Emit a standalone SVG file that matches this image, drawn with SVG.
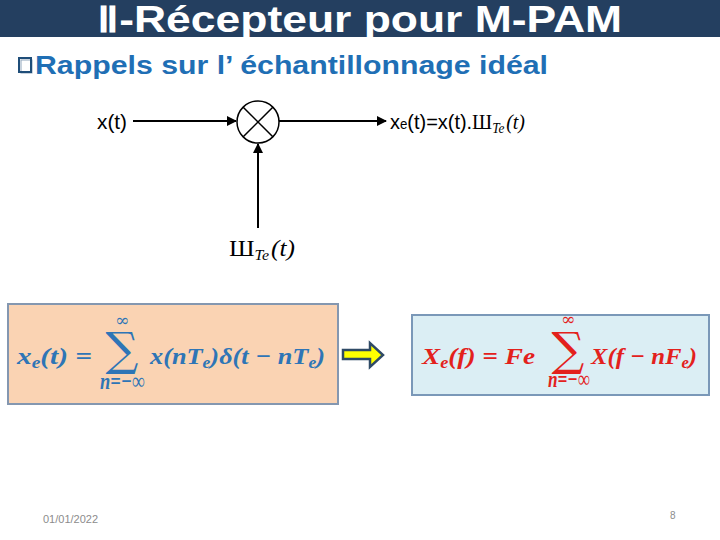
<svg xmlns="http://www.w3.org/2000/svg" width="720" height="540" viewBox="0 0 720 540">
<defs>
<style>
.title{font-family:"Liberation Sans",Arial,sans-serif;font-weight:bold;fill:#ffffff}
.sub{font-family:"Liberation Sans",Arial,sans-serif;font-weight:bold;fill:#1F6FB5}
.lbl{font-family:"Liberation Sans",Arial,sans-serif;fill:#000000;font-size:21px}
.mth{font-family:"Liberation Serif","DejaVu Serif",serif;font-style:italic}
.fb{font-family:"Liberation Serif","DejaVu Serif",serif;font-weight:bold;font-style:italic;font-size:24px}
.sig{font-family:"DejaVu Serif","Liberation Serif",serif;font-weight:normal;font-style:normal}
.blue{fill:#2E75B6}
.red{fill:#E3211C}
.conn{stroke:#000;stroke-width:2;fill:none}
.foot{font-family:"Liberation Sans",Arial,sans-serif;fill:#8C8C8C}
</style>
<marker id="ah" viewBox="0 0 10 10" refX="9" refY="5" markerWidth="5" markerHeight="5" orient="auto" markerUnits="strokeWidth">
<path d="M0,0 L10,5 L0,10 z" fill="#000"/>
</marker>
</defs>
<rect width="720" height="540" fill="#ffffff"/>
<g id="title-bar">
<rect x="0" y="0" width="720" height="37" fill="#243F60"/>
<text class="title" x="97" y="32" font-size="36" textLength="525" lengthAdjust="spacingAndGlyphs">Ⅱ-Récepteur pour M-PAM</text>
</g>
<g id="subtitle">
<rect x="19" y="58" width="12" height="14" fill="none" stroke="#1F4E79" stroke-width="2"/>
<rect x="21" y="60" width="11" height="13" fill="none" stroke="#1F4E79" stroke-width="1" opacity="0.5"/>
<text class="sub" x="35" y="74" font-size="25" textLength="513" lengthAdjust="spacingAndGlyphs">Rappels sur l’ échantillonnage idéal</text>
</g>
<g id="connectors">
<line class="conn" x1="133" y1="121" x2="236" y2="121" marker-end="url(#ah)"/>
<line class="conn" x1="279" y1="121" x2="386" y2="121" marker-end="url(#ah)"/>
<line class="conn" x1="258" y1="228" x2="258" y2="144" marker-end="url(#ah)"/>
</g>
<g id="multiplier">
<circle cx="258" cy="122" r="21" fill="#fff" stroke="#000" stroke-width="1.5"/>
<line x1="243.2" y1="107.2" x2="272.8" y2="136.8" stroke="#000" stroke-width="1.5"/>
<line x1="272.8" y1="107.2" x2="243.2" y2="136.8" stroke="#000" stroke-width="1.5"/>
</g>
<g id="label-x">
<text class="lbl" x="97" y="129" textLength="30" lengthAdjust="spacingAndGlyphs">x(t)</text>
</g>
<g id="label-xe">
<text x="390" y="129" font-size="21" font-family="Liberation Sans, Arial, sans-serif" textLength="135" lengthAdjust="spacingAndGlyphs"><tspan>x</tspan><tspan font-size="14">e</tspan><tspan>(t)=x(t).</tspan><tspan font-family="Liberation Serif, serif">Ш</tspan><tspan class="mth" font-size="14" dy="4">Te</tspan><tspan class="mth" dy="-4" dx="2">(t)</tspan></text>
</g>
<g id="label-comb">
<text x="229" y="256" font-size="24" font-family="Liberation Serif, serif" textLength="66" lengthAdjust="spacingAndGlyphs"><tspan>Ш</tspan><tspan class="mth" font-size="15" dy="4">Te</tspan><tspan class="mth" dy="-4" dx="2">(t)</tspan></text>
</g>
<g id="formula-time">
<rect x="8" y="304" width="330" height="100" fill="#FAD3B3" stroke="#8497B0" stroke-width="2"/>
<text class="fb blue" x="17" y="364" textLength="75" lengthAdjust="spacingAndGlyphs"><tspan>x</tspan><tspan font-size="16" dy="4">e</tspan><tspan dy="-4">(t) =</tspan></text>
<text class="sig blue" x="122" y="365" font-size="46" text-anchor="middle">∑</text>
<text class="blue" x="122" y="326" font-size="17" text-anchor="middle" font-family="DejaVu Serif, serif">∞</text>
<text class="fb blue" x="100" y="389" font-size="13" textLength="45" lengthAdjust="spacingAndGlyphs">n=−∞</text>
<text class="fb blue" x="150" y="364" textLength="175" lengthAdjust="spacingAndGlyphs"><tspan>x(nT</tspan><tspan font-size="16" dy="4">e</tspan><tspan dy="-4">)δ(t − nT</tspan><tspan font-size="16" dy="4">e</tspan><tspan dy="-4">)</tspan></text>
</g>
<g id="arrow-implies">
<path d="M343,350 L370,350 L370,343 L383,355 L370,367 L370,359 L343,359 Z" fill="#FFFF00" stroke="#2F4A66" stroke-width="2.5" stroke-linejoin="miter"/>
</g>
<g id="formula-freq">
<rect x="412" y="315" width="297" height="80" fill="#DBEEF4" stroke="#7A98B8" stroke-width="2"/>
<text class="fb red" x="422" y="364" textLength="113" lengthAdjust="spacingAndGlyphs"><tspan>X</tspan><tspan font-size="16" dy="4">e</tspan><tspan dy="-4">(f) = Fe</tspan></text>
<text class="sig red" x="568" y="365" font-size="46" text-anchor="middle">∑</text>
<text class="red" x="568" y="325" font-size="17" text-anchor="middle" font-family="DejaVu Serif, serif">∞</text>
<text class="fb red" x="548" y="387" font-size="13" textLength="42" lengthAdjust="spacingAndGlyphs">n=−∞</text>
<text class="fb red" x="591" y="364" textLength="106" lengthAdjust="spacingAndGlyphs"><tspan>X(f − nF</tspan><tspan font-size="16" dy="4">e</tspan><tspan dy="-4">)</tspan></text>
</g>
<g id="footer">
<text class="foot" x="43" y="523" font-size="11">01/01/2022</text>
<text class="foot" x="670" y="519" font-size="10">8</text>
</g>
</svg>
